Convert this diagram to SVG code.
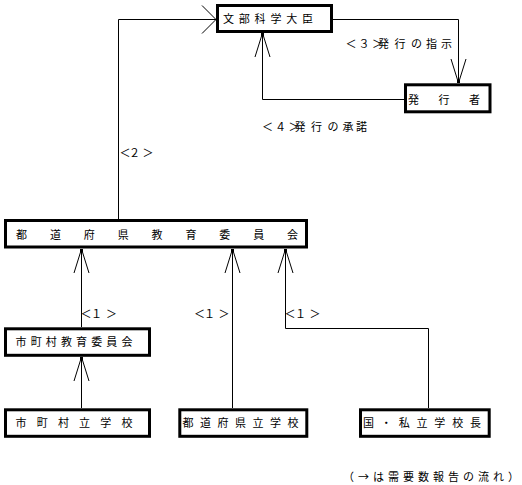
<svg xmlns="http://www.w3.org/2000/svg" width="522" height="485" viewBox="0 0 522 485">
<style>
.box{fill:#fff;stroke:#000;stroke-width:3}
.t{font-family:"Noto Sans CJK JP","Noto Sans CJK SC",sans-serif;font-size:11px;fill:#000}
.ln{fill:none;stroke:#000;stroke-width:1}
</style>
<defs>
<marker id="arr" markerUnits="userSpaceOnUse" viewBox="-26 -10 28 20" markerWidth="28" markerHeight="20" refX="0" refY="0" orient="auto" overflow="visible">
<path d="M-24,-7.5 L0,0 L-24,7.5" fill="none" stroke="#000" stroke-width="1"/>
<rect x="-3" y="-1.5" width="3" height="3" fill="#000"/>
</marker>
<marker id="arrw" markerUnits="userSpaceOnUse" viewBox="-16 -16 18 32" markerWidth="18" markerHeight="32" refX="0" refY="0" orient="auto" overflow="visible">
<path d="M-14,-14 L0,0 L-14,14" fill="none" stroke="#000" stroke-width="1"/>
</marker>
</defs>
<rect width="522" height="485" fill="#fff"/>
<g id="connectors">
<path class="ln" d="M118.5,219 V19.5 H216" marker-end="url(#arrw)"/>
<path class="ln" d="M333,19.5 H458.5 V83" marker-end="url(#arr)"/>
<path class="ln" d="M404,99.5 H262.5 V33" marker-end="url(#arr)"/>
<path class="ln" d="M81.5,327 V249" marker-end="url(#arr)"/>
<path class="ln" d="M232.5,408 V249" marker-end="url(#arr)"/>
<path class="ln" d="M428.5,408 V328.5 H285.5 V249" marker-end="url(#arr)"/>
<path class="ln" d="M81.5,408 V357" marker-end="url(#arr)"/>
<text class="t" x="345.5 358.5 372 378 394.5 411 426 441" y="48">＜３＞発行の指示</text>
<text class="t" x="262 275 288.5 294.5 311 327.5 342.5 356" y="131">＜４＞発行の承諾</text>
<text class="t" x="119.5 129 142.5" y="157">＜２＞</text>
<text class="t" x="80.5 91 106" y="318">＜１＞</text>
<text class="t" x="194 204 218.5" y="318">＜１＞</text>
<text class="t" x="284.5 295 309.5" y="318">＜１＞</text>
</g>
<g id="n-monka">
<rect class="box" x="217.5" y="5.5" width="114" height="26"/>
<text class="t" x="223" y="23" textLength="90" lengthAdjust="spacing">文部科学大臣</text>
</g>
<g id="n-hakkosha">
<rect class="box" x="405.5" y="84.8" width="84.5" height="27"/>
<text class="t" x="408" y="103.5" textLength="72" lengthAdjust="spacing">発行者</text>
</g>
<g id="n-todofuken-kyoi">
<rect class="box" x="5.5" y="220.5" width="301" height="26.5"/>
<text class="t" x="16" y="238.5" textLength="282" lengthAdjust="spacing">都道府県教育委員会</text>
</g>
<g id="n-shichoson-kyoi">
<rect class="box" x="5.5" y="328.8" width="144" height="26.5"/>
<text class="t" x="15.5" y="346" textLength="117" lengthAdjust="spacing">市町村教育委員会</text>
</g>
<g id="n-shichoson-school">
<rect class="box" x="5.5" y="409.8" width="144" height="26.5"/>
<text class="t" x="15.5" y="427" textLength="117" lengthAdjust="spacing">市町村立学校</text>
</g>
<g id="n-todofuken-school">
<rect class="box" x="179.8" y="409.8" width="127" height="26.5"/>
<text class="t" x="182.5" y="427" textLength="116" lengthAdjust="spacing">都道府県立学校</text>
</g>
<g id="n-kokushi">
<rect class="box" x="360.5" y="409.8" width="128.7" height="26.5"/>
<text class="t" x="363" y="427" textLength="118" lengthAdjust="spacing">国・私立学校長</text>
</g>
<g id="note">
<text class="t" x="343" y="481" textLength="176" lengthAdjust="spacing">（→は需要数報告の流れ）</text>
</g>
</svg>
